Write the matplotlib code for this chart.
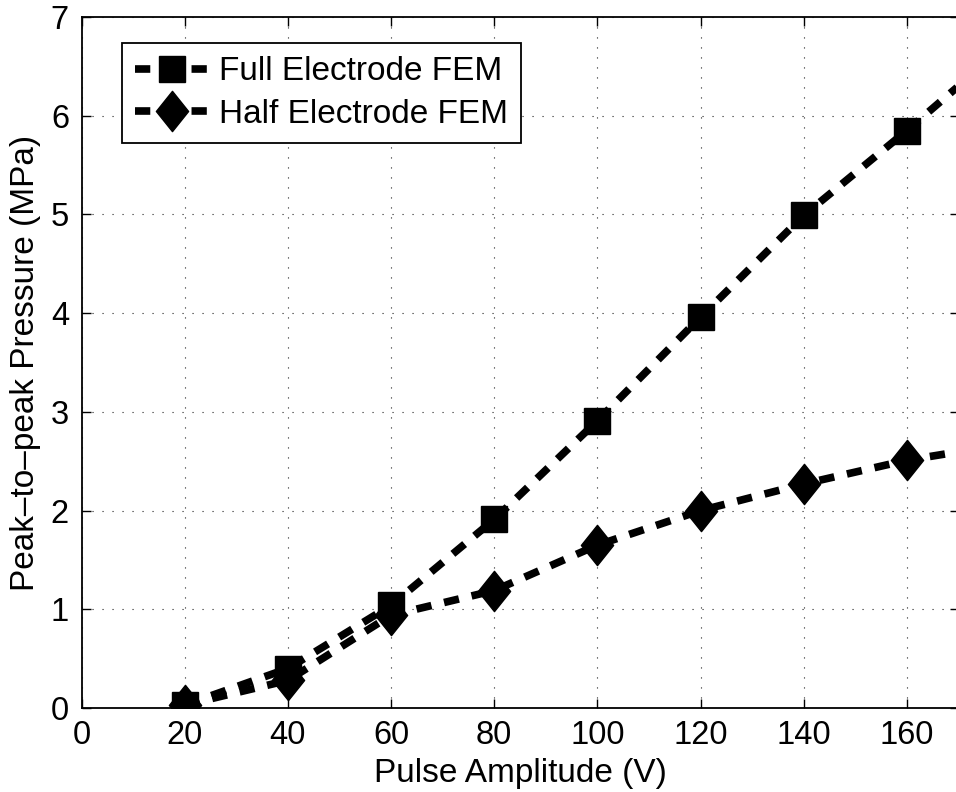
import numpy as np
import matplotlib
matplotlib.use("Agg")
import matplotlib.pyplot as plt
from matplotlib.path import Path

plt.rcParams['font.family'] = ['Liberation Sans', 'DejaVu Sans']
plt.rcParams['axes.unicode_minus'] = False

# data
voltage = [20, 40, 60, 80, 100, 120, 140, 160, 180]
full_fem = [0.03, 0.40, 1.04, 1.91, 2.91, 3.96, 4.99, 5.85, 6.75]
half_fem = [0.03, 0.28, 0.94, 1.19, 1.65, 2.00, 2.27, 2.51, 2.68]

x_ticks = [0, 20, 40, 60, 80, 100, 120, 140, 160]
y_ticks = [0, 1, 2, 3, 4, 5, 6, 7]

# matlab-like diamond (taller than wide)
diamond = Path([(0, 1), (0.8, 0), (0, -1), (-0.8, 0), (0, 1)],
               [Path.MOVETO, Path.LINETO, Path.LINETO, Path.LINETO, Path.CLOSEPOLY])

fig = plt.figure(figsize=(9.56, 7.92), dpi=100)
ax = fig.add_axes([81.5/956, 84/792, 877/956, 691/792])

lw = 5.5
dash = (2.0, 1.7)
ax.plot(voltage, full_fem, color='black', linewidth=lw, dashes=dash,
        dash_capstyle='butt', marker='s', markersize=19,
        markerfacecolor='black', markeredgecolor='black',
        label='Full Electrode FEM')
ax.plot(voltage, half_fem, color='black', linewidth=lw, dashes=dash,
        dash_capstyle='butt', marker=diamond, markersize=29,
        markerfacecolor='black', markeredgecolor='black',
        label='Half Electrode FEM')

ax.set_xlim(0, 170)
ax.set_ylim(0, 7)
ax.set_xticks(x_ticks)
ax.set_yticks(y_ticks)
ax.grid(True, color='#222222', linestyle=(0, (1, 8)), linewidth=0.8)
ax.set_axisbelow(True)

ax.tick_params(direction='in', length=6.5, width=1, labelsize=23.5,
               top=True, right=True, pad=9)
for s in ax.spines.values():
    s.set_linewidth(1.3)

ax.set_xlabel('Pulse Amplitude (V)', fontsize=24, labelpad=5)
ax.set_ylabel('Peak\u2013to\u2013peak Pressure (MPa)', fontsize=24, labelpad=7)

leg = ax.legend(loc='upper left', bbox_to_anchor=(40.5/877, 1 - 26/691),
                borderaxespad=0, fontsize=24, handlelength=2.2,
                handletextpad=0.3, borderpad=0.4, labelspacing=0.35,
                fancybox=False, framealpha=1, edgecolor='black',
                markerscale=1)
leg.get_frame().set_linewidth(1.3)

fig.savefig('out.png', dpi=100)
